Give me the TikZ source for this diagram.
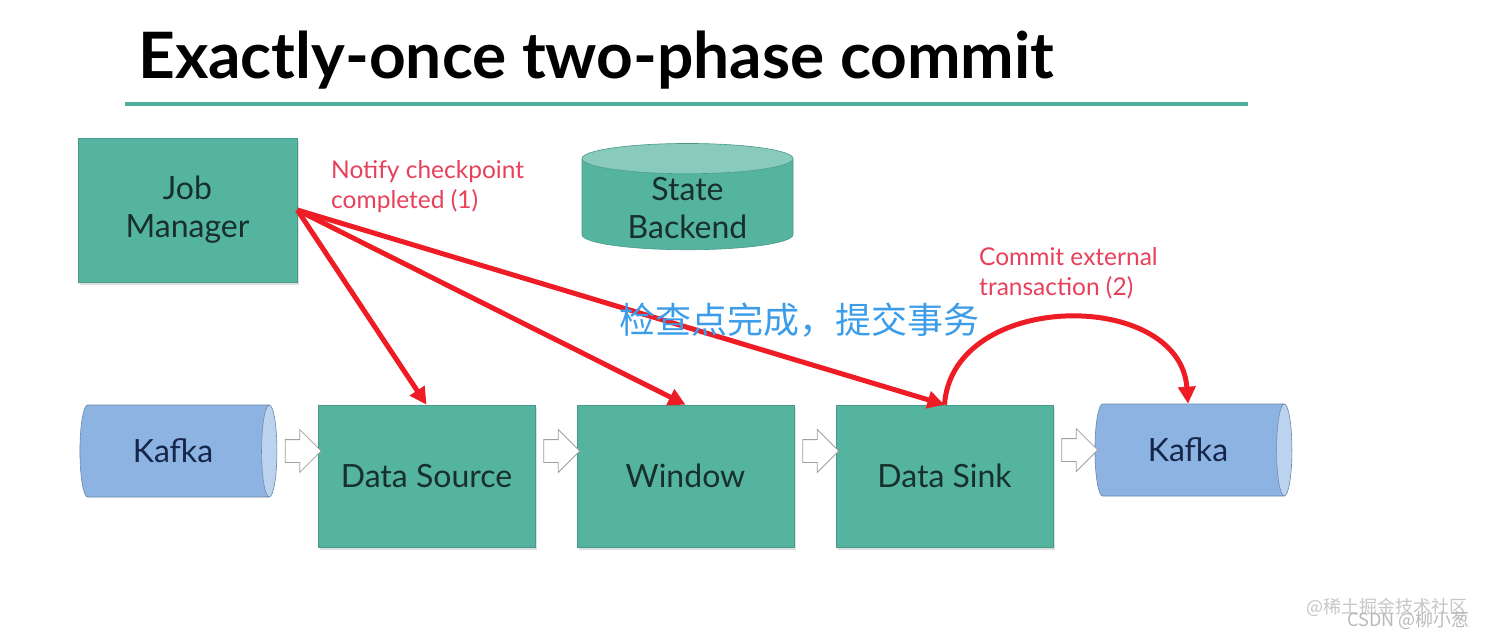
\documentclass[tikz,border=0pt]{standalone}
\usepackage{fontspec}
\setmainfont{Lato}
\newfontfamily\cjkfont{Noto Sans CJK SC}
\usetikzlibrary{shapes.geometric,shapes.arrows,arrows.meta,calc,shadows}
\definecolor{boxteal}{HTML}{55B4A0}
\definecolor{boxtext}{HTML}{17302B}
\definecolor{kafkablue}{HTML}{8DB3E2}
\definecolor{kafkaend}{HTML}{BCD3EF}
\definecolor{kafkatext}{HTML}{15264A}
\definecolor{notered}{HTML}{E8405A}
\definecolor{linkred}{HTML}{EE1C25}
\definecolor{cnblue}{HTML}{3B9DE9}
\definecolor{ruleteal}{HTML}{4FAE9E}
\tikzset{
  opbox/.style={draw=boxteal!85!black, line width=0.6pt, fill=boxteal,
    minimum width=217pt, minimum height=142pt, align=center,
    font=\fontsize{32}{38}\selectfont, text=boxtext,
    drop shadow={shadow xshift=2pt, shadow yshift=-3pt, opacity=0.25}},
  kafka/.style={cylinder, draw=kafkablue!75!black, line width=0.6pt,
    cylinder uses custom fill, cylinder body fill=kafkablue, cylinder end fill=kafkaend,
    aspect=0.5, minimum width=92pt, minimum height=197pt,
    font=\fontsize{32}{38}\selectfont, text=kafkatext},
  store/.style={cylinder, shape border rotate=90, draw=boxteal!85!black, line width=0.6pt,
    cylinder uses custom fill, cylinder body fill=boxteal, cylinder end fill=boxteal!70!white,
    inner sep=36pt, aspect=0.42, minimum width=211pt, minimum height=100pt},
  storetext/.style={align=center, font=\fontsize{32}{38}\selectfont, text=boxtext},
  flow/.style={single arrow, draw=gray!75, fill=white, line width=0.8pt,
    inner sep=11pt, minimum width=42pt, single arrow head extend=10pt, minimum height=36pt},
  notify/.style={draw=linkred, line width=5pt,
    -{Triangle[width=17pt,length=17pt]}},
  note/.style={text=notered, align=left, inner sep=0pt,
    font=\fontsize{24.5}{30}\selectfont},
}
\begin{document}
\begin{tikzpicture}[x=1pt,y=-1pt]
\useasboundingbox[fill=white] (0,0) rectangle (1486,638);

% title
\node[anchor=base west, inner sep=0pt, font=\fontsize{64}{70}\bfseries] (title) at (138,78) {Exactly-once two-phase commit};
\draw[ruleteal, line width=4pt] (125,104) -- (1248,104);

% job manager and state backend
\node[opbox, minimum width=219pt, minimum height=144pt] (jm) at (187.5,210) {Job\\Manager};
\node[store] (sb) at (687.5,210) {};
\node[storetext] (sbtext) at ($(sb.center)+(0,-2)$) {State\\Backend};

% pipeline
\node[kafka] (kin) at (173,451) {Kafka};
\node[opbox] (src) at (426.5,476) {Data Source};
\node[opbox] (win) at (685.5,476) {Window};
\node[opbox] (sink) at (944.5,476) {Data Sink};
\node[kafka] (kout) at (1188,450) {Kafka};

\node[flow] (f1) at ($(kin.east)!.5!(kin.east -| src.west)$) {};
\node[flow] (f2) at ($(src.east |- kin.east)!.5!(win.west |- kin.east)$) {};
\node[flow] (f3) at ($(win.east |- kin.east)!.5!(sink.west |- kin.east)$) {};
\node[flow] (f4) at ($(sink.east |- kout.center)!.5!(kout.west)$) {};

% notify / commit
\draw[notify] (jm.east) -- (src.north);
\draw[notify] (jm.east) -- (win.north);
\draw[notify] (jm.east) -- (sink.north);
\draw[notify] (sink.north) .. controls ($(sink.north)+(8,-115)$) and ($(kout.north)+(-8,-115)$) .. (kout.north);

\node[note, anchor=north west] (n1) at (331,160) {Notify checkpoint\\completed (1)};
\node[note, anchor=north west] (n2) at (979,247) {Commit external\\transaction (2)};
\node[text=cnblue, font=\cjkfont\fontsize{36}{40}\selectfont] (cn) at (799,320) {检查点完成，提交事务};

% watermark
\node[anchor=east, text=gray!45, font=\cjkfont\fontsize{18}{20}\selectfont, inner sep=0pt] (wm1) at (1468,607) {@稀土掘金技术社区};
\node[anchor=east, text=gray!55, font=\cjkfont\fontsize{18}{20}\selectfont, inner sep=0pt] (wm2) at (1470,620) {CSDN @柳小葱};
\end{tikzpicture}
\end{document}
